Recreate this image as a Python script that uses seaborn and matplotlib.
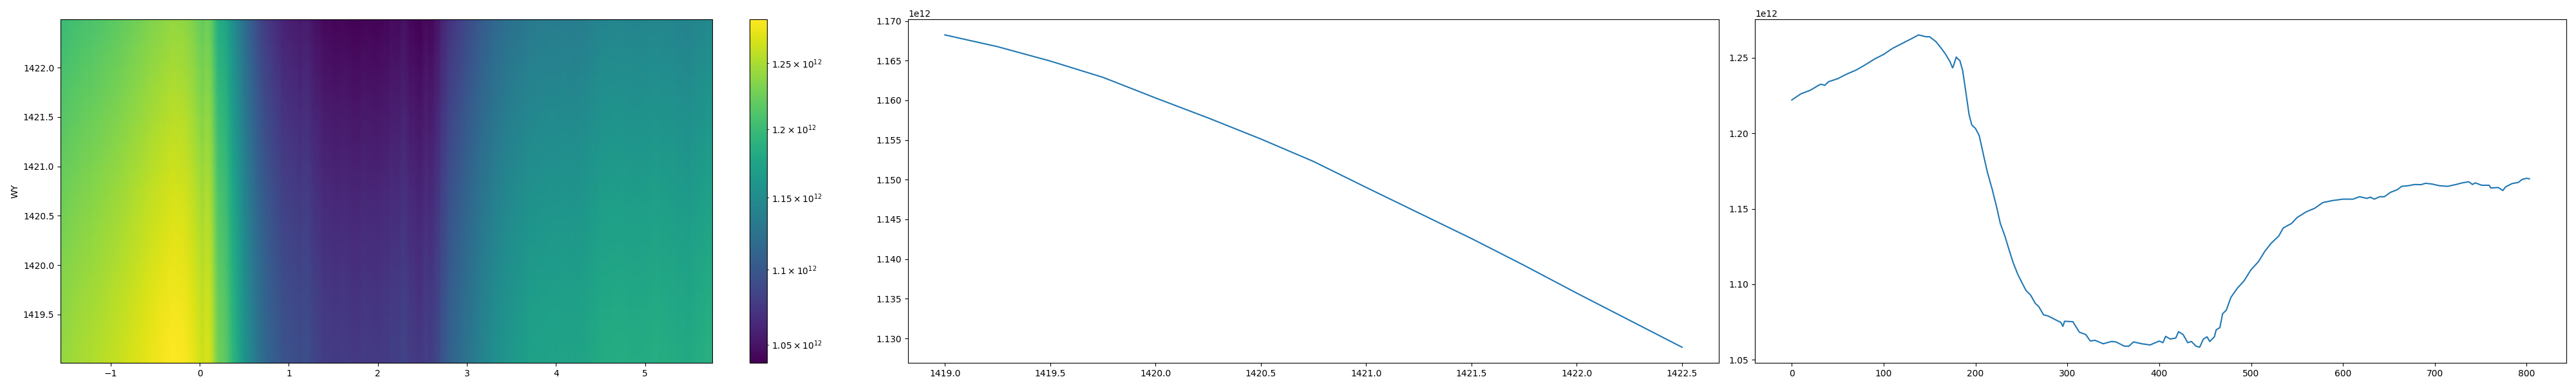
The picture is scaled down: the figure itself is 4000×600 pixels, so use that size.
import numpy as np
import pandas as pd
import seaborn as sns
import matplotlib
matplotlib.use("Agg")
import matplotlib.pyplot as plt
from matplotlib.colors import LogNorm

# WY positions (rows of the map) and the mean value of each row (x1e12)
wy = [1419.0, 1419.25, 1419.5, 1419.75, 1420.0, 1420.25, 1420.5, 1420.75,
      1421.0, 1421.25, 1421.5, 1421.75, 1422.0, 1422.25, 1422.5]
wy_mean = [1.16824, 1.16676, 1.16495, 1.16290, 1.16030, 1.15778, 1.15513, 1.15230,
           1.14903, 1.14581, 1.14259, 1.13921, 1.13571, 1.13230, 1.12889]

# column profile: sample index and mean value of that column (x1e12)
col_idx = [0, 10, 20, 30, 32, 36, 40, 50, 60, 70, 80, 90, 100, 110, 120, 130,
           138, 146, 150, 157, 162, 167, 172, 175, 176, 179, 181, 183, 186, 189,
           193, 196, 200, 204, 209, 213, 218, 223, 227, 232, 237, 241, 246, 251,
           255, 260, 265, 269, 274, 279, 283, 288, 293, 295, 297, 306, 313, 320,
           325, 330, 339, 348, 353, 362, 367, 372, 381, 390, 400, 404, 407, 412,
           418, 421, 426, 431, 435, 440, 444, 448, 452, 455, 460, 462, 466, 469,
           473, 478, 485, 492, 500, 508, 515, 522, 530, 535, 544, 550, 560, 569,
           578, 588, 600, 611, 618, 626, 630, 634, 640, 645, 652, 659, 664, 671,
           678, 685, 690, 697, 705, 714, 723, 730, 737, 741, 744, 751, 759, 761,
           769, 774, 777, 784, 791, 795, 800, 803]
col_mean = [1.2221, 1.2262, 1.2285, 1.2321, 1.2325, 1.2318, 1.2342, 1.2362, 1.2393,
            1.2419, 1.2454, 1.2492, 1.2523, 1.2564, 1.2595, 1.2626, 1.2652, 1.2640,
            1.2640, 1.2607, 1.2569, 1.2528, 1.2477, 1.2434, 1.2446, 1.2505, 1.2492,
            1.2482, 1.2416, 1.2293, 1.2124, 1.2055, 1.2032, 1.1986, 1.1848, 1.1741,
            1.1633, 1.1511, 1.1403, 1.1319, 1.1219, 1.1143, 1.1066, 1.1005, 1.0959,
            1.0928, 1.0874, 1.0851, 1.0798, 1.0790, 1.0778, 1.0762, 1.0747, 1.0721,
            1.0755, 1.0752, 1.0683, 1.0667, 1.0624, 1.0629, 1.0606, 1.0621, 1.0618,
            1.0590, 1.0590, 1.0618, 1.0606, 1.0598, 1.0624, 1.0613, 1.0655, 1.0637,
            1.0644, 1.0686, 1.0667, 1.0613, 1.0621, 1.0590, 1.0583, 1.0637, 1.0652,
            1.0621, 1.0652, 1.0698, 1.0713, 1.0805, 1.0828, 1.0913, 1.0974, 1.1020,
            1.1097, 1.1150, 1.1219, 1.1273, 1.1319, 1.1373, 1.1403, 1.1442, 1.1480,
            1.1503, 1.1541, 1.1554, 1.1564, 1.1564, 1.1580, 1.1569, 1.1577, 1.1564,
            1.1580, 1.1580, 1.1610, 1.1626, 1.1649, 1.1653, 1.1661, 1.1660, 1.1669,
            1.1664, 1.1653, 1.1649, 1.1661, 1.1672, 1.1679, 1.1661, 1.1672, 1.1656,
            1.1656, 1.1638, 1.1641, 1.1621, 1.1645, 1.1667, 1.1675, 1.1695, 1.1702,
            1.1699]

# x extent of the map (first and last column) and number of columns
x_first, x_last = -1.563, 5.755
n_cols = 804

scale = 1e12
row = np.array(wy_mean) * scale
col = np.array(col_mean) * scale

# 2D map rebuilt from the two profiles
field = np.outer(row / row.mean(), col)
xs = x_first + np.array(col_idx) * (x_last - x_first) / (n_cols - 1)
XX, YY = np.meshgrid(xs, wy)

row_df = pd.DataFrame({"WY": wy, "value": row})
col_df = pd.DataFrame({"index": col_idx, "value": col})

fig = plt.figure(figsize=(40, 6), dpi=100)
ax0 = fig.add_axes([94 / 4000, 0.06, 1012 / 4000, 0.89])
cax = fig.add_axes([1164 / 4000, 0.06, 27 / 4000, 0.89])
ax1 = fig.add_axes([1410 / 4000, 0.06, 1259 / 4000, 0.89])
ax2 = fig.add_axes([2725 / 4000, 0.06, 1260 / 4000, 0.89])

# map
mesh = ax0.pcolormesh(XX, YY, field, shading="gouraud", cmap="viridis", norm=LogNorm())
ax0.set_ylim(1419.01, 1422.49)
ax0.set_ylabel("WY")
fig.colorbar(mesh, cax=cax)

# mean along x for each WY
sns.lineplot(data=row_df, x="WY", y="value", ax=ax1)
ax1.set_xlabel("")
ax1.set_ylabel("")

# mean along WY for each column
sns.lineplot(data=col_df, x="index", y="value", ax=ax2)
ax2.set_xlabel("")
ax2.set_ylabel("")

fig.savefig("out.png", dpi=100)
